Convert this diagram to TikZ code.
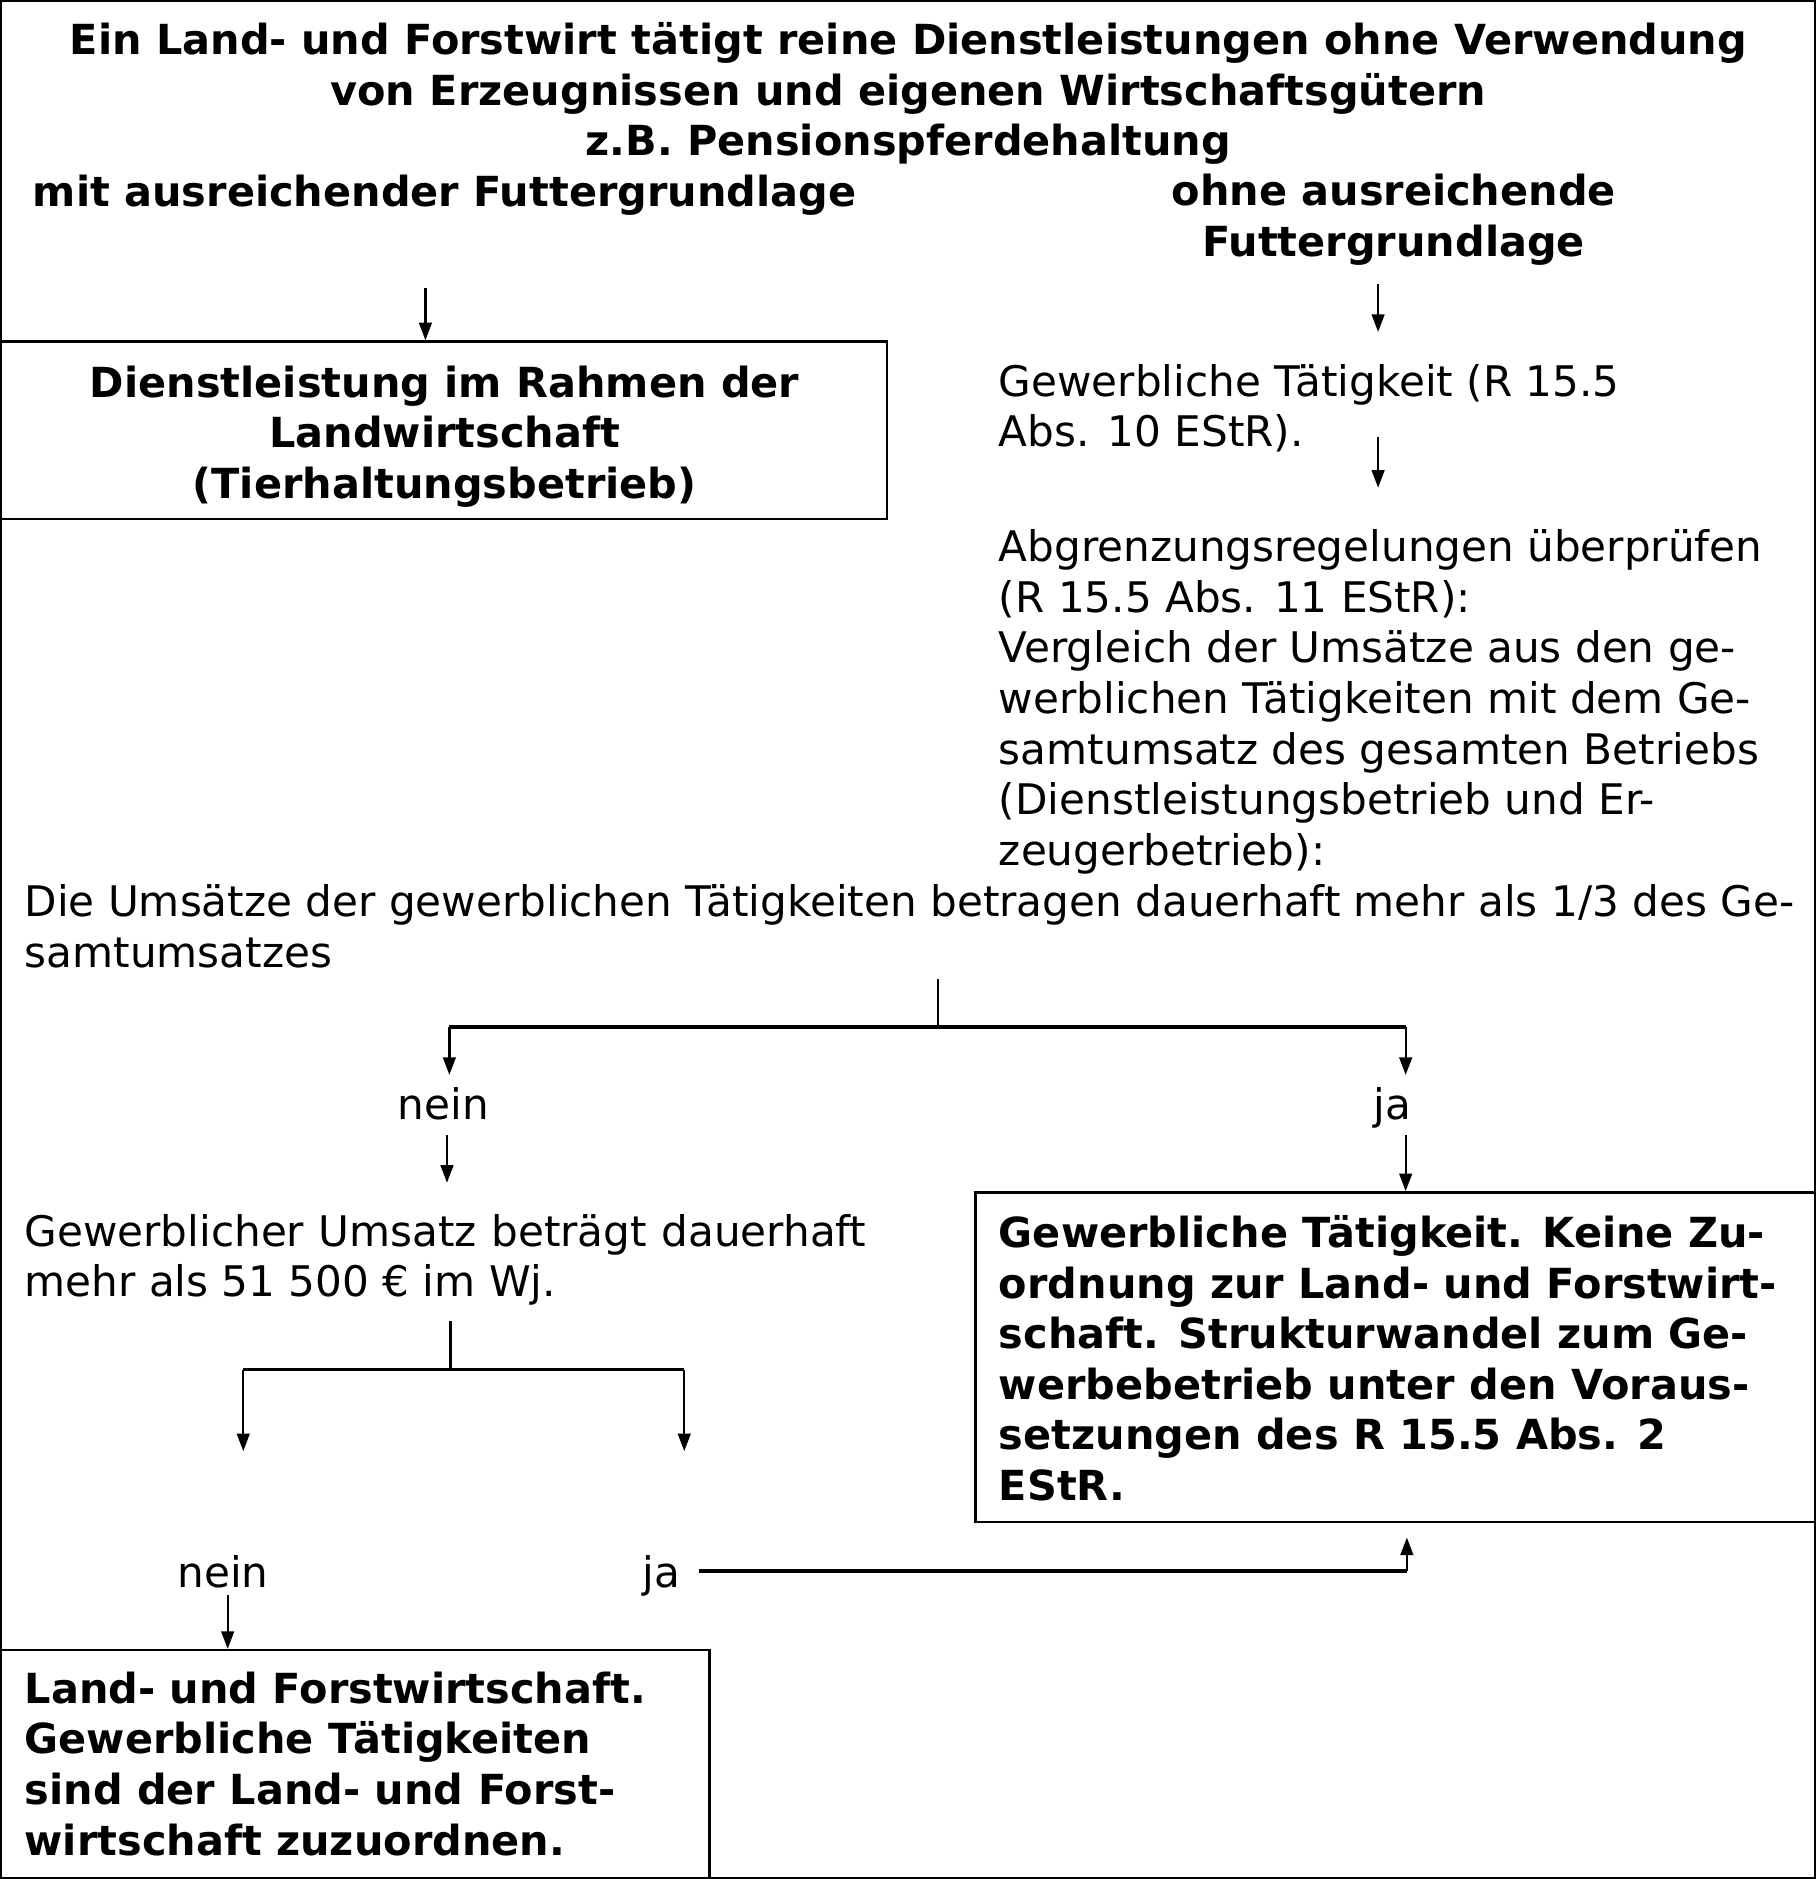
\documentclass[tikz,border=0pt]{standalone}
\usepackage{fontspec}
\setmainfont{DejaVu Sans}
\usetikzlibrary{arrows.meta,fit}
\begin{document}
\begin{tikzpicture}[x=0.012cm,y=-0.012cm,
		every node/.style={inner sep=0pt,font=\fontsize{12}{14.4}\selectfont},
		txt/.style={anchor=base west,align=left},
		ctr/.style={anchor=base,align=center},
		bold/.style={font=\fontsize{11.8}{14.4}\selectfont\bfseries},
		box/.style={draw,line width=0.7pt,inner sep=0pt},
		arr/.style={line width=0.65pt,-{Triangle[length=5pt,width=3.6pt]}},
		hline/.style={line width=0.9pt}]
		\useasboundingbox (0,0) rectangle (1515,1568);
		\draw[line width=1pt] (0,0) rectangle (1515,1568);

		\node[ctr,bold] (title) at (758,130)
		{Ein Land- und Forstwirt tätigt reine Dienstleistungen ohne Verwendung\\
			von Erzeugnissen und eigenen Wirtschaftsgütern\\
			z.B. Pensionspferdehaltung};
		\node[ctr,bold] (mit) at (371,172) {mit ausreichender Futtergrundlage};
		\node[ctr,bold] (ohne) at (1163,214) {ohne ausreichende\\Futtergrundlage};

		\node[box,fit={(0,285) (740,433)}] (dienst) {};
		\node[ctr,bold] (diensttxt) at (371,416)
		{Dienstleistung im Rahmen der\\Landwirtschaft\\(Tierhaltungsbetrieb)};

		\node[txt] (gew) at (833,373) {Gewerbliche Tätigkeit (R 15.5\\Abs. 10 EStR).};
		\node[txt] (abgr) at (833,722)
		{Abgrenzungsregelungen überprüfen\\
			(R 15.5 Abs. 11 EStR):\\
			Vergleich der Umsätze aus den ge-\\
			werblichen Tätigkeiten mit dem Ge-\\
			samtumsatz des gesamten Betriebs\\
			(Dienstleistungsbetrieb und Er-\\
			zeugerbetrieb):};
		\node[txt] (umsatz) at (20,807)
		{Die Umsätze der gewerblichen Tätigkeiten betragen dauerhaft mehr als 1/3 des Ge-\\
			samtumsatzes};

		\node[ctr] (nein1) at (370,934) {nein};
		\node[ctr] (ja1) at (1162,934) {ja};

		\node[anchor=base west,text width=8.424cm,align=justify] (grenze) at (20,1040)
		{Gewerblicher Umsatz beträgt dauerhaft\linebreak mehr als 51~500 € im Wj.};

		\node[box,fit={(814,995) (1515,1270)}] (gewbox) {};
		\node[txt,bold] (gewboxtxt) at (833,1252)
		{Gewerbliche Tätigkeit. Keine Zu-\\
			ordnung zur Land- und Forstwirt-\\
			schaft. Strukturwandel zum Ge-\\
			werbebetrieb unter den Voraus-\\
			setzungen des R 15.5 Abs. 2\\
			EStR.};

		\node[ctr] (nein2) at (186,1325) {nein};
		\node[ctr] (ja2) at (552,1325) {ja};

		\node[box,fit={(0,1377) (592,1568)}] (lfbox) {};
		\node[txt,bold] (lfboxtxt) at (20,1548)
		{Land- und Forstwirtschaft.\\
			Gewerbliche Tätigkeiten\\
			sind der Land- und Forst-\\
			wirtschaft zuzuordnen.};

		\coordinate (p1) at (355,240);
		\coordinate (p2) at (1150,237);
		\coordinate (p3) at (1150,365);
		\draw[arr] (p1) -- (p1 |- dienst.north);
		\draw[arr] (p2) -- ++(0,40);
		\draw[arr] (p3) -- ++(0,42);

		\coordinate (fork1) at (783,817);
		\coordinate (fork1l) at (375,857);
		\coordinate (fork1r) at (1173,857);
		\draw[line width=0.65pt] (fork1) -- (fork1 |- fork1l);
		\draw[hline] (fork1l) -- (fork1r);
		\foreach \f in {fork1l,fork1r}
			\draw[arr] (\f) -- ++(0,40);

		\coordinate (q1) at (373,947);
		\coordinate (q2) at (1173,947);
		\draw[arr] (q1) -- ++(0,40);
		\draw[arr] (q2) -- (q2 |- gewbox.north);

		\coordinate (fork2) at (376,1102);
		\coordinate (fork2l) at (203,1143);
		\coordinate (fork2r) at (571,1143);
		\draw[line width=0.65pt] (fork2) -- (fork2 |- fork2l);
		\draw[hline] (fork2l) -- (fork2r);
		\foreach \f in {fork2l,fork2r}
			\draw[arr] (\f) -- ++(0,68);

		\coordinate (r1) at (583,1311);
		\coordinate (r2) at (1174,1311);
		\draw[hline] (r1) -- (r2);
		\draw[arr] (r2) -- ++(0,-28);

		\coordinate (s1) at (190,1331);
		\draw[arr] (s1) -- (s1 |- lfbox.north);
	\end{tikzpicture}
\end{document}
